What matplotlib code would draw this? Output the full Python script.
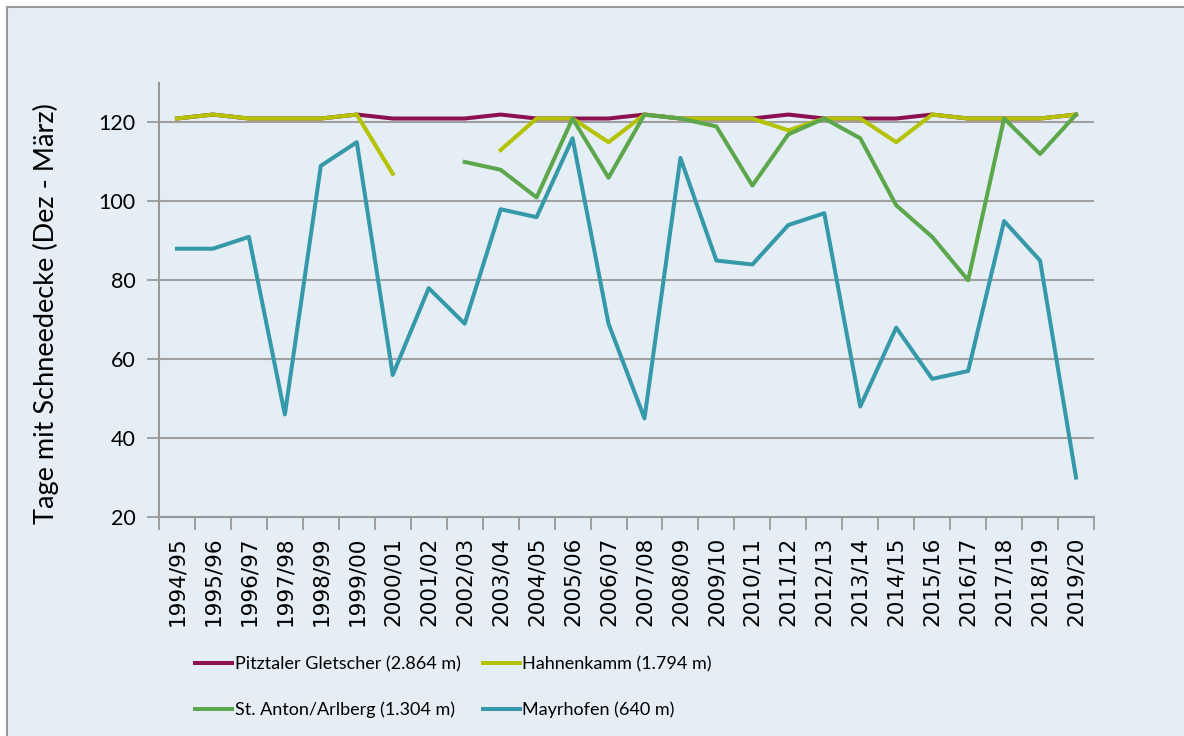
import numpy as np
import matplotlib.pyplot as plt
from matplotlib.patches import Rectangle

nan = np.nan
# winters
seasons = ['1994/95', '1995/96', '1996/97', '1997/98', '1998/99', '1999/00',
           '2000/01', '2001/02', '2002/03', '2003/04', '2004/05', '2005/06',
           '2006/07', '2007/08', '2008/09', '2009/10', '2010/11', '2011/12',
           '2012/13', '2013/14', '2014/15', '2015/16', '2016/17', '2017/18',
           '2018/19', '2019/20']

# days with snow cover per station
pitztal = [121, 122, 121, 121, 121, 122, 121, 121, 121, 122, 121, 121, 121,
           122, 121, 121, 121, 122, 121, 121, 121, 122, 121, 121, 121, 122]
hahnenkamm = [121, 122, 121, 121, 121, 122, 107, nan, nan, 113, 121, 121, 115,
              122, 121, 121, 121, 118, 121, 121, 115, 122, 121, 121, 121, 122]
stanton = [nan, nan, nan, nan, nan, nan, nan, nan, 110, 108, 101, 121, 106,
           122, 121, 119, 104, 117, 121, 116, 99, 91, 80, 121, 112, 122]
mayrhofen = [88, 88, 91, 46, 109, 115, 56, 78, 69, 98, 96, 116, 69,
             45, 111, 85, 84, 94, 97, 48, 68, 55, 57, 95, 85, 30]

bg = '#e5eef4'
fig = plt.figure(figsize=(11.84, 7.36), dpi=100, facecolor='white')
# panel with grey border on top/left
fig.patches.append(Rectangle((7/1184, -0.01), 1.0, (736-7)/736 + 0.01,
                             transform=fig.transFigure, facecolor=bg,
                             edgecolor='#999999', linewidth=1.5, zorder=-5))

ax = fig.add_axes([159/1184, (736-517)/736, (1094-159)/1184, (517-83)/736])
ax.set_facecolor(bg)
x = np.arange(len(seasons))

lw = 2.9
l1, = ax.plot(x, pitztal, color='#8c1150', lw=lw, label='Pitztaler Gletscher (2.864 m)', zorder=3)
l3, = ax.plot(x, stanton, color='#5ca64c', lw=lw, label='St. Anton/Arlberg (1.304 m)', zorder=5)
l2, = ax.plot(x, hahnenkamm, color='#b3c300', lw=lw, label='Hahnenkamm (1.794 m)', zorder=4)
l4, = ax.plot(x, mayrhofen, color='#3599a9', lw=lw, label='Mayrhofen (640 m)', zorder=2)

ax.set_xlim(-0.5, len(seasons) - 0.5)
ax.set_ylim(20, 130)
ax.set_yticks([20, 40, 60, 80, 100, 120])
ax.yaxis.grid(True, color='#a0a0a0', lw=1.5)
ax.set_axisbelow(True)

ax.set_xticks(x)
ax.set_xticklabels(seasons, rotation=90, fontsize=15.5, family='DejaVu Sans')
ax.set_xticks(np.arange(len(seasons) + 1) - 0.5, minor=True)
ax.tick_params(axis='x', which='major', length=0, pad=14)
ax.tick_params(axis='x', which='minor', length=9, width=1.3, color='#999999')
ax.tick_params(axis='y', length=9, width=1.3, color='#999999', labelsize=15.5, pad=8)
for lab in ax.get_yticklabels():
    lab.set_family('Lato')

for s in ['top', 'right']:
    ax.spines[s].set_visible(False)
for s in ['left', 'bottom']:
    ax.spines[s].set_color('#999999')
    ax.spines[s].set_linewidth(1.5)

ax.set_ylabel('Tage mit Schneedecke (Dez - März)', fontsize=19.5, family='Lato')
ax.yaxis.set_label_coords(-100/935, (517-314)/434)

fig.legend(handles=[l1, l3, l2, l4], ncol=2, loc='upper left',
           bbox_to_anchor=(179/1184, 1 - 640/736), frameon=False,
           prop={'family': 'Lato', 'size': 13}, handlelength=2.05,
           handletextpad=0.15, columnspacing=1.2, labelspacing=1.6)

fig.savefig('out.png', dpi=100, facecolor='white')
